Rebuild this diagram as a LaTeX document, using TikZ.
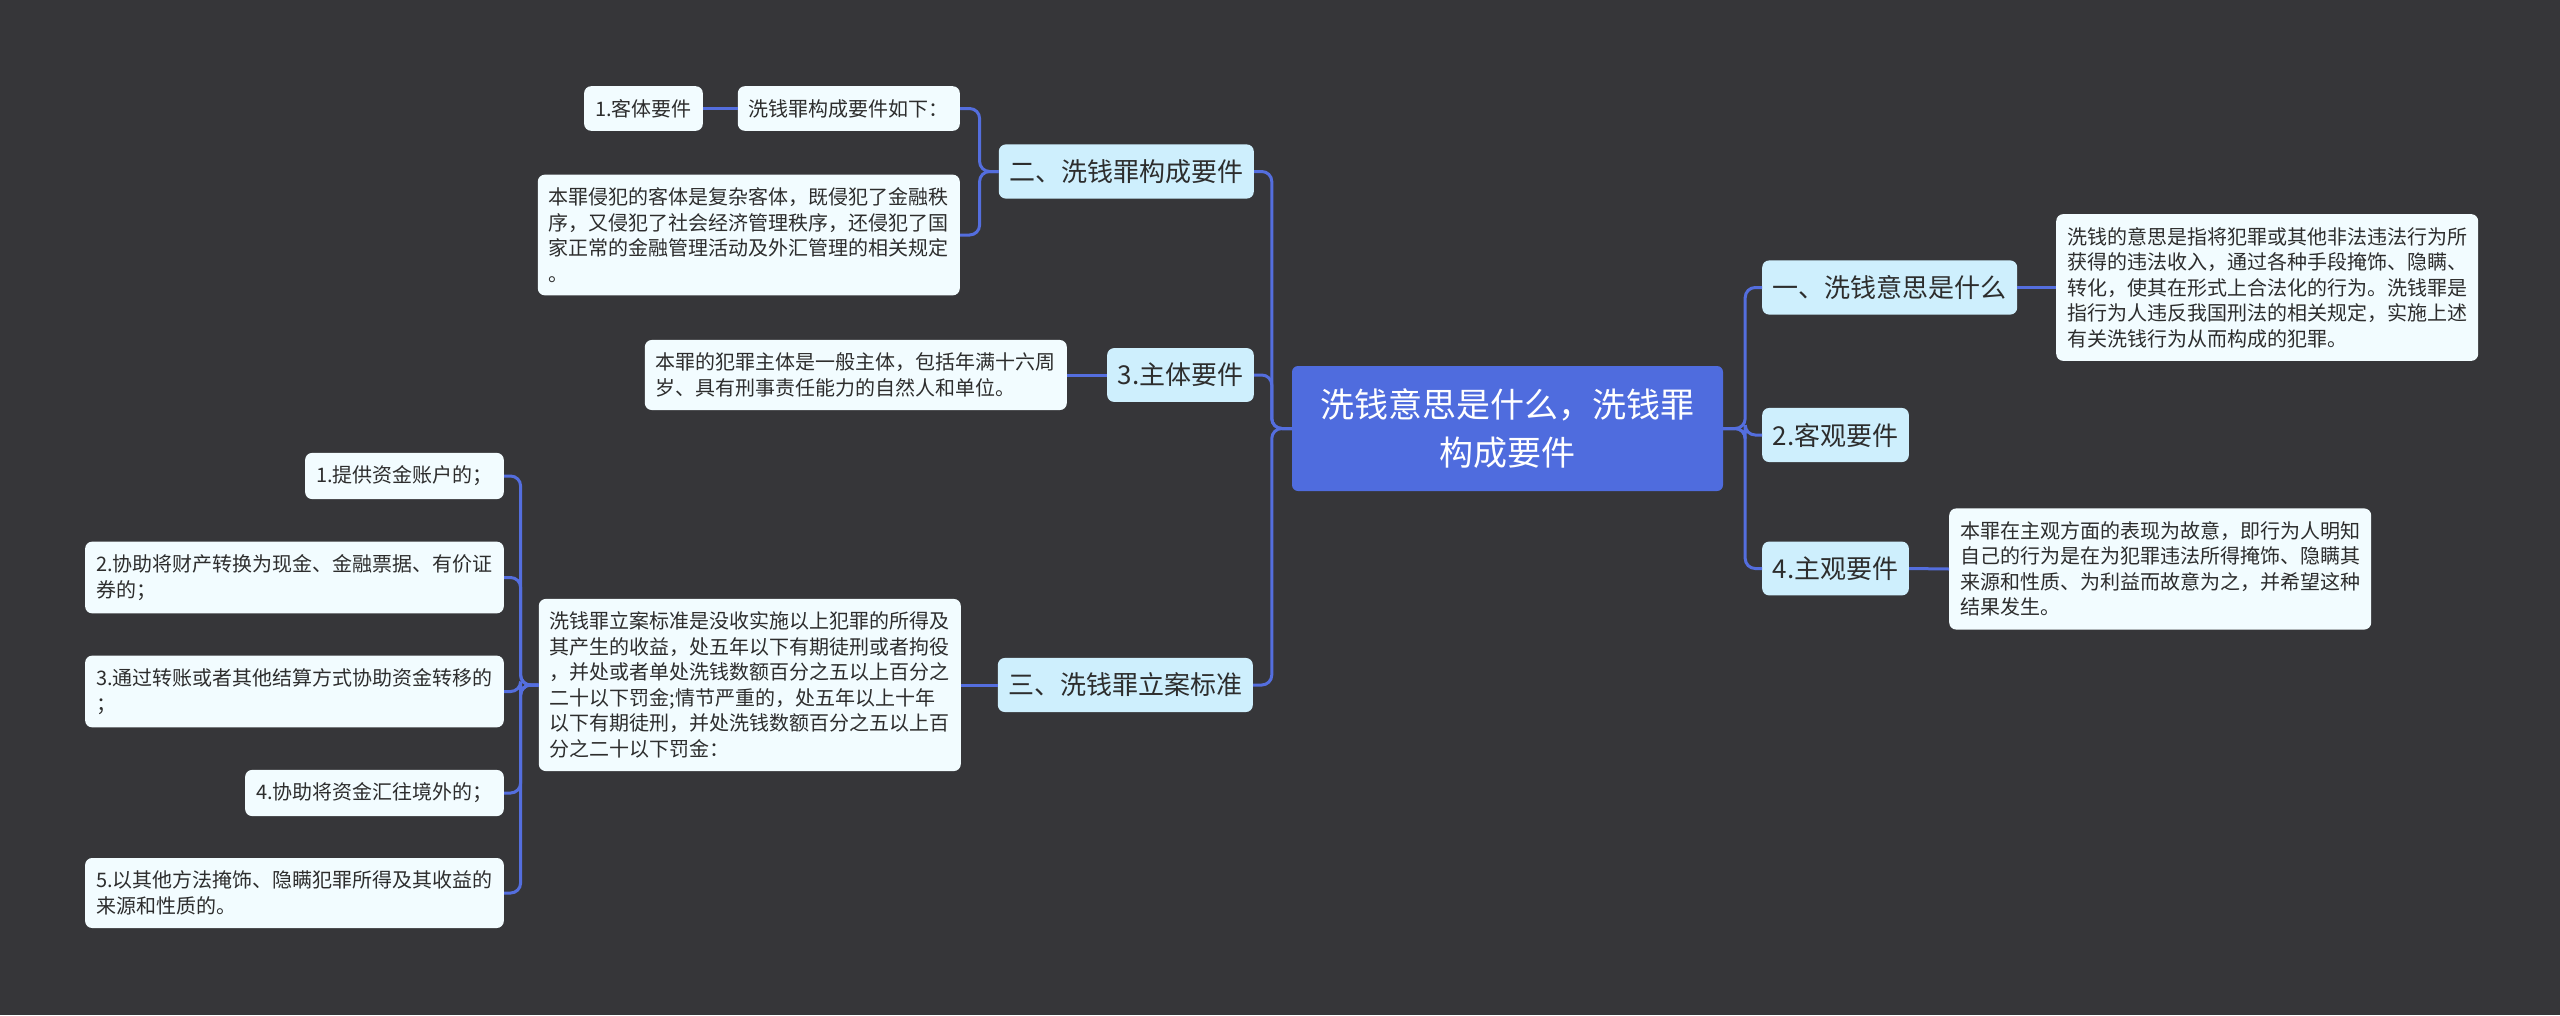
\documentclass[tikz,border=0pt]{standalone}
\usepackage{fontspec}
\setmainfont{Noto Sans CJK SC}
\definecolor{bgcol}{RGB}{54,54,57}
\definecolor{linecol}{RGB}{84,110,222}
\definecolor{rootcol}{RGB}{79,108,222}
\definecolor{subcol}{RGB}{206,239,253}
\definecolor{leafcol}{RGB}{242,252,255}
\definecolor{txtcol}{RGB}{45,45,45}

\begin{document}
\begin{tikzpicture}[x=1pt, y=-1pt,
    rootbox/.style={fill=rootcol, rounded corners=6pt, text=white, align=center,
        font=\fontsize{34}{48}\selectfont, minimum width=431pt, minimum height=125pt},
    subbox/.style={fill=subcol, rounded corners=7pt, text=txtcol,
        font=\fontsize{26}{32}\selectfont, inner xsep=10.5pt, inner ysep=15pt},
    leafbox/.style={fill=leafcol, rounded corners=7pt, text=txtcol, align=left,
        font=\fontsize{20}{25.5}\selectfont, inner xsep=11pt, inner ysep=13pt},
    link/.style={draw=linecol, line width=3pt, rounded corners=10pt}]
    % 背景
    \fill[bgcol] (0,0) rectangle (2560,1015);

    % 中心主题
    \node[rootbox] (root) at (1507.5,428.5) {洗钱意思是什么，洗钱罪\\构成要件};

    % 右侧分支
    \node[subbox, anchor=west] (r1) at (1762,287.5) {一、洗钱意思是什么};
    \node[leafbox, anchor=west] (t1) at (2056,287.5) {洗钱的意思是指将犯罪或其他非法违法行为所\\获得的违法收入，通过各种手段掩饰、隐瞒、\\转化，使其在形式上合法化的行为。洗钱罪是\\指行为人违反我国刑法的相关规定，实施上述\\有关洗钱行为从而构成的犯罪。};
    \node[subbox, anchor=west] (r2) at (1762,435) {2.客观要件};
    \node[subbox, anchor=west] (r4) at (1762,568.5) {4.主观要件};
    \node[leafbox, anchor=west] (t4) at (1949,569) {本罪在主观方面的表现为故意，即行为人明知\\自己的行为是在为犯罪违法所得掩饰、隐瞒其\\来源和性质、为利益而故意为之，并希望这种\\结果发生。};

    % 左侧分支
    \node[subbox, anchor=east] (l1) at (1254,171.5) {二、洗钱罪构成要件};
    \node[leafbox, anchor=east] (l1a) at (960,108.5) {洗钱罪构成要件如下：};
    \node[leafbox, anchor=east] (l1aa) at (703,108.5) {1.客体要件};
    \node[leafbox, anchor=east] (l1b) at (960,235) {本罪侵犯的客体是复杂客体，既侵犯了金融秩\\序，又侵犯了社会经济管理秩序，还侵犯了国\\家正常的金融管理活动及外汇管理的相关规定\\。};
    \node[subbox, anchor=east] (l3) at (1254,375) {3.主体要件};
    \node[leafbox, anchor=east] (l3a) at (1067,375) {本罪的犯罪主体是一般主体，包括年满十六周\\岁、具有刑事责任能力的自然人和单位。};
    \node[subbox, anchor=east] (l5) at (1253,685) {三、洗钱罪立案标准};
    \node[leafbox, anchor=east] (l5a) at (961,685) {洗钱罪立案标准是没收实施以上犯罪的所得及\\其产生的收益，处五年以下有期徒刑或者拘役\\，并处或者单处洗钱数额百分之五以上百分之\\二十以下罚金;情节严重的，处五年以上十年\\以下有期徒刑，并处洗钱数额百分之五以上百\\分之二十以下罚金：};

    % 立案标准的五项
    \node[leafbox, anchor=east] (c1) at (504,476) {1.提供资金账户的；};
    \node[leafbox, anchor=east] (c2) at (504,577.5) {2.协助将财产转换为现金、金融票据、有价证\\券的；};
    \node[leafbox, anchor=east] (c3) at (504,691.5) {3.通过转账或者其他结算方式协助资金转移的\\；};
    \node[leafbox, anchor=east] (c4) at (504,793) {4.协助将资金汇往境外的；};
    \node[leafbox, anchor=east] (c5) at (504,893) {5.以其他方法掩饰、隐瞒犯罪所得及其收益的\\来源和性质的。};

    % 连线
    \foreach \n in {l1,l3,l5}
        \draw[link] (root.west) -- ++(-20,0) |- (\n.east);
    \foreach \n in {r1,r2,r4}
        \draw[link] (root.east) -- ++(22,0) |- (\n.west);
    \draw[link] (r1.east) -- (t1.west);
    \draw[link] (r4.east) -- (t4.west);
    \foreach \n in {l1a,l1b}
        \draw[link] (l1.west) -- ++(-19,0) |- (\n.east);
    \draw[link] (l1a.west) -- (l1aa.east);
    \draw[link] (l3.west) -- (l3a.east);
    \draw[link] (l5.west) -- (l5a.east);
    \foreach \n in {c1,c2,c3,c4,c5}
        \draw[link] (l5a.west) -- ++(-18,0) |- (\n.east);
\end{tikzpicture}
\end{document}
